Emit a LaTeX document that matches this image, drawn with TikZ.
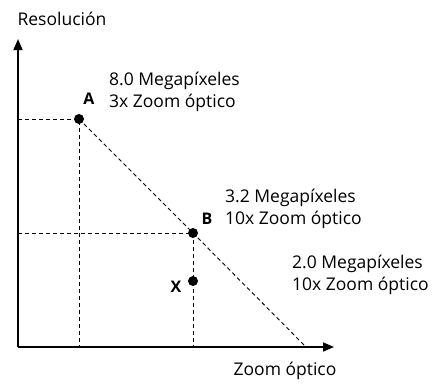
\documentclass[tikz,border=0pt]{standalone}
\usepackage{fontspec}
\setmainfont{Open Sans}
\usetikzlibrary{arrows.meta,calc,positioning}

\tikzset{
  guide/.style={dashed,line width=0.9pt,dash pattern=on 4pt off 3pt},
  lbl/.style={font=\fontsize{17.5}{21.5}\selectfont,align=left,inner sep=0pt},
  pt/.style={font=\fontsize{16}{18}\selectfont\bfseries,inner sep=0pt},
  axis/.style={line width=1.6pt,-{Triangle[length=11pt,width=9pt]}}
}

\begin{document}
\begin{tikzpicture}[x=1pt,y=-1pt]
        \useasboundingbox (0,0) rectangle (435,383);
        % Axes
        \coordinate (O) at (18,347);
        \coordinate (ytop) at (18,39);
        \coordinate (xend) at (334,347);
        \draw[axis] (O) -- (ytop);
        \draw[axis] (O) -- (xend);
        \node[lbl] (ylab) at (62,19) {Resolución};
        \node[lbl] (xlab) at (285,371) {Zoom óptico};

        % Points
        \coordinate (A) at (79,119);
        \coordinate (B) at (193,233);
        \coordinate (X) at (193,281);
        \coordinate (E) at (306,347);
        \coordinate (Ay) at (18,119);
        \coordinate (Ax) at (79,347);
        \coordinate (By) at (18,233);
        \coordinate (Bx) at (193,347);

        % Dashed guides
        \draw[guide] (Ay) -- (A) -- (Ax);
        \draw[guide] (By) -- (B) -- (Bx);
        \draw[guide] (A) -- (B) -- (E);
        \fill (A) circle (5pt);
        \fill (B) circle (5pt);
        \fill (X) circle (5pt);

        % Labels
        \node[pt] (lA) at (89,99) {A};
        \node[pt] (lB) at (207,219) {B};
        \node[pt] (lX) at (176,287) {X};
        \node[lbl,anchor=base west] (tA) at (109,107) {8.0 Megapíxeles\\3x Zoom óptico};
        \node[lbl,anchor=base west] (tB) at (225,224) {3.2 Megapíxeles\\10x Zoom óptico};
        \node[lbl,anchor=base west] (tX) at (292,290) {2.0 Megapíxeles\\10x Zoom óptico};
      \end{tikzpicture}
\end{document}
